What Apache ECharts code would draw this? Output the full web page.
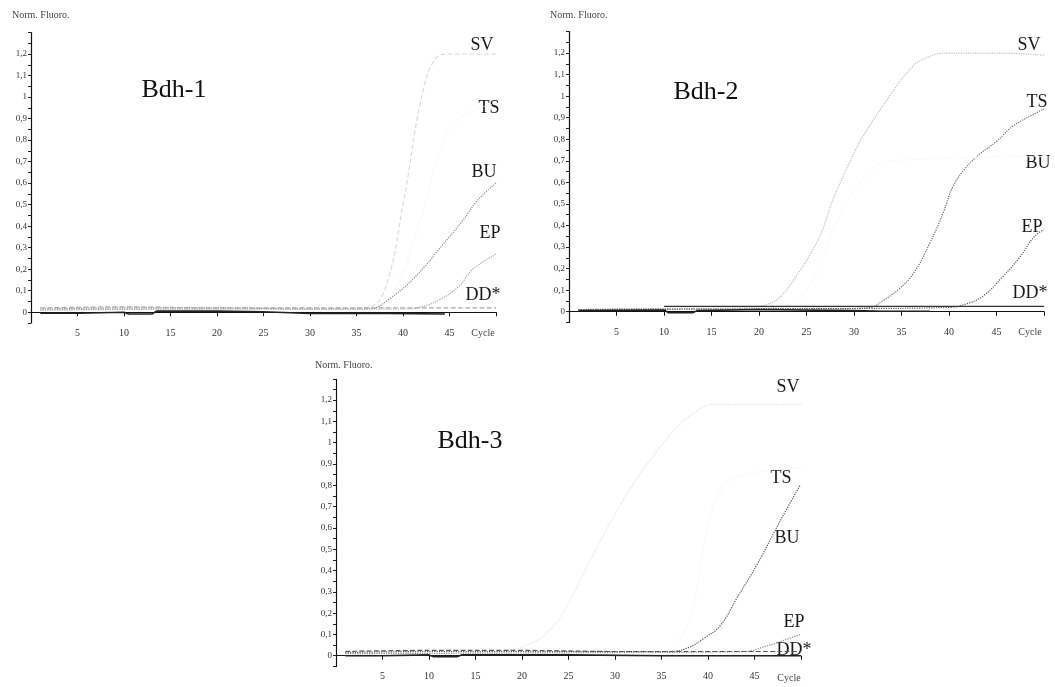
<!DOCTYPE html>
<html>
<head>
<meta charset="utf-8">
<title>Bdh qPCR</title>
<script src="https://cdn.jsdelivr.net/npm/echarts@6/dist/echarts.min.js"></script>
<style>
  html, body { margin: 0; padding: 0; background: #fff; }
  #chart { width: 1055px; height: 687px; }
</style>
</head>
<body>
<div id="chart"></div>
<script>
// curve names, same for the three runs
var sampleNames = ["SV", "TS", "BU", "EP", "DD*"];
var panelTitles = ["Bdh-1", "Bdh-2", "Bdh-3"];
var xTicks = [5, 10, 15, 20, 25, 30, 35, 40, 45];

// [cycle, norm. fluoro]
var bdh1SV = [[1,0.01],[10,0.015],[20,0.015],[30,0.015],[36,0.02],[38,0.1],[40,0.5],[42,1.0],[43.5,1.18],[45,1.2],[50,1.2]];
var bdh1TS = [[1,0.01],[36,0.015],[39,0.1],[42,0.45],[44,0.75],[46,0.9],[50,0.97]];
var bdh1BU = [[1,0.015],[10,0.02],[20,0.02],[30,0.015],[36,0.015],[37,0.02],[38.5,0.06],[40.5,0.13],[42.5,0.22],[44,0.3],[46.5,0.43],[48,0.52],[50,0.6]];
var bdh1EP = [[1,0.01],[20,0.015],[40,0.015],[42,0.025],[44,0.06],[46,0.12],[47.5,0.2],[50,0.27]];
var bdh1DD = [[1,0.02],[10,0.025],[20,0.02],[30,0.02],[40,0.02],[50,0.02]];
var bdh1NC = [[1,-0.005],[5,-0.005],[10,0],[10.5,-0.008],[13,-0.008],[13.5,0.005],[20,0.005],[25,0.002],[30,-0.006],[35,-0.004],[44.5,-0.008]];

var bdh2SV = [[1,0.01],[15,0.015],[19,0.02],[20.5,0.03],[22,0.06],[24,0.17],[26.4,0.35],[27.7,0.51],[29.5,0.69],[30.9,0.81],[33.9,1.01],[35.8,1.12],[37.2,1.17],[39.7,1.2],[45,1.2],[50,1.19]];
var bdh2TS = [[1,0.01],[20,0.015],[30,0.015],[31.8,0.02],[33,0.05],[34.6,0.1],[36.3,0.18],[38,0.32],[39.4,0.46],[40.4,0.58],[41.8,0.67],[43.2,0.73],[45,0.79],[46.7,0.86],[49.5,0.93],[50,0.94]];
var bdh2BU = [[1,0.01],[22,0.02],[25,0.1],[28,0.4],[31,0.62],[34,0.7],[50,0.72]];
var bdh2EP = [[1,0.01],[30,0.015],[40,0.02],[41.4,0.03],[43.5,0.07],[45.6,0.16],[47.4,0.25],[49,0.35],[50,0.38]];
var bdh2DD = [[10,0.025],[20,0.025],[30,0.025],[40,0.025],[50,0.025]];
var bdh2NC = [[1,0.005],[10,0.008],[10.5,-0.005],[13,-0.005],[13.5,0.005],[20,0.01],[30,0.005],[33,0.002],[38,0.002]];

var bdh3SV = [[1,0.01],[15,0.015],[19,0.03],[21,0.06],[22.5,0.1],[24.4,0.2],[27,0.42],[29.8,0.65],[31.9,0.8],[34,0.93],[36.6,1.07],[38.5,1.14],[40.5,1.18],[44.5,1.18],[50,1.18]];
var bdh3TS = [[1,0.01],[35,0.02],[37,0.08],[38.5,0.25],[39.7,0.55],[41,0.75],[43,0.84],[50,0.88]];
var bdh3BU = [[1,0.015],[10,0.02],[20,0.02],[30,0.02],[36,0.02],[38,0.04],[39.5,0.08],[41.3,0.14],[43.1,0.27],[45.3,0.43],[47,0.57],[48.1,0.66],[49.9,0.8]];
var bdh3EP = [[1,0.01],[30,0.015],[44,0.02],[45.9,0.04],[48,0.07],[49.9,0.1]];
var bdh3DD = [[1,0.02],[10,0.025],[20,0.025],[30,0.02],[40,0.02],[50,0.02]];
var bdh3NC = [[1,0],[5,0],[10,0.004],[10.5,-0.005],[13,-0.005],[13.5,0.004],[25,0.004],[35,0],[50,0]];

var panelData = [
  [bdh1SV, bdh1TS, bdh1BU, bdh1EP, bdh1DD, bdh1NC],
  [bdh2SV, bdh2TS, bdh2BU, bdh2EP, bdh2DD, bdh2NC],
  [bdh3SV, bdh3TS, bdh3BU, bdh3EP, bdh3DD, bdh3NC]
];

// scan is faded: some curves are nearly gone
var panelColors = [
  ["#dadada", "#f4f4f4", "#8a8a8a", "#a4a4a4", "#a8a8a8", "#222"],
  ["#bdbdbd", "#6a6a6a", "#f6f6f6", "#5a5a5a", "#333", "#222"],
  ["#e4e4e4", "#f3f3f3", "#555", "#8a8a8a", "#555", "#222"]
];
var panelTypes = [
  ["dashed", "dotted", "dotted", "dotted", "dashed", "solid"],
  ["dotted", "dotted", "dotted", "dotted", "solid", "solid"],
  ["dotted", "dotted", "dotted", "dotted", "dashed", "solid"]
];

var serif = "'Liberation Serif', 'DejaVu Serif', serif";

var grids = [
  { left: 31, top: 32.5, width: 465, height: 290.5 },
  { left: 569, top: 31.5, width: 475, height: 291 },
  { left: 336, top: 378.8, width: 465, height: 287.6 }
];

// label positions on the right side of each plot
var labelPos = [
  [[482,45],[489,108],[484,172],[490,233],[483,295]],
  [[1029,45],[1037,102],[1038,163],[1032,227],[1030,293]],
  [[788,387],[781,478],[787,538],[794,622],[794,650]]
];
var titlePos = [[174,90],[706,92],[470,441]];
var yNamePos = [[12,15],[550,15],[315,365]];
var cyclePos = [[483,333],[1030,332],[789,678]];

function yLabel(v) {
  var n = Math.round(v * 100);
  if (n < 0 || n > 120 || n % 10 !== 0) return "";
  if (n === 0) return "0";
  if (n === 100) return "1";
  return (n / 100).toFixed(1).replace(".", ",");
}

var xAxes = [], yAxes = [], series = [], graphics = [];

for (var p = 0; p < 3; p++) {
  var dotted = p === 2 ? [2, 1] : "solid";
  xAxes.push({
    gridIndex: p, type: "value", min: 0, max: 50, interval: 5,
    axisLine: { lineStyle: { color: "#111", width: 1.2, type: dotted } },
    axisTick: { length: 4, lineStyle: { color: "#111" } },
    axisLabel: {
      color: "#333", fontSize: 10, fontFamily: serif, margin: 5,
      formatter: function (v) { return xTicks.indexOf(v) >= 0 ? String(v) : ""; }
    },
    splitLine: { show: false }
  });
  yAxes.push({
    gridIndex: p, type: "value", min: -0.05, max: 1.3, interval: 0.05,
    axisLine: { show: true, lineStyle: { color: "#111", width: 1.2, type: dotted } },
    axisTick: { show: true, length: 3, lineStyle: { color: "#222" } },
    axisLabel: { color: "#333", fontSize: 9, fontFamily: serif, margin: 4, formatter: yLabel },
    splitLine: { show: false }
  });

  var data = panelData[p];
  for (var s = 0; s < data.length; s++) {
    series.push({
      name: s < sampleNames.length ? sampleNames[s] : "NC",
      type: "line",
      xAxisIndex: p, yAxisIndex: p,
      data: data[s],
      smooth: s === 5 ? false : 0.4,
      showSymbol: false,
      lineStyle: { color: panelColors[p][s], width: s === 5 ? 1.6 : 1.2, type: panelTypes[p][s] },
      z: s === 5 ? 3 : 2
    });
  }

  graphics.push({
    type: "text", x: titlePos[p][0], y: titlePos[p][1],
    style: { text: panelTitles[p], font: "26px " + serif, fill: "#111", textAlign: "center", textVerticalAlign: "middle" }
  });
  graphics.push({
    type: "text", x: yNamePos[p][0], y: yNamePos[p][1],
    style: { text: "Norm. Fluoro.", font: "10px " + serif, fill: "#444", textAlign: "left", textVerticalAlign: "middle" }
  });
  graphics.push({
    type: "text", x: cyclePos[p][0], y: cyclePos[p][1],
    style: { text: "Cycle", font: "10px " + serif, fill: "#444", textAlign: "center", textVerticalAlign: "middle" }
  });
  for (var k = 0; k < sampleNames.length; k++) {
    graphics.push({
      type: "text", x: labelPos[p][k][0], y: labelPos[p][k][1],
      style: { text: sampleNames[k], font: "18px " + serif, fill: "#1a1a1a", textAlign: "center", textVerticalAlign: "middle" }
    });
  }
}

var myChart = echarts.init(document.getElementById("chart"));
myChart.setOption({
  backgroundColor: "#fff",
  animation: false,
  grid: grids,
  xAxis: xAxes,
  yAxis: yAxes,
  series: series,
  graphic: graphics
});
</script>
</body>
</html>
